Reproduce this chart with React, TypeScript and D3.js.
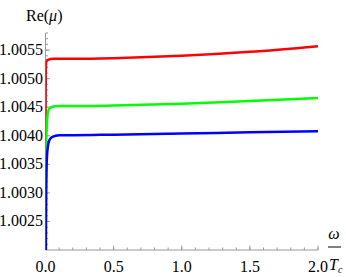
import * as d3 from "d3";

// x values (omega / Tc) where the curves were sampled
const omega = [0, 0.0005, 0.001, 0.002, 0.005, 0.01, 0.02, 0.03, 0.05, 0.1, 0.2, 0.5, 1.0, 1.5, 2.0];

const redSeries = [1.0, 1.0025, 1.0045, 1.0051, 1.00528, 1.00532, 1.00533, 1.00534, 1.00535, 1.00535, 1.00535, 1.00536, 1.0054, 1.00547, 1.00557];
const greenSeries = [1.0, 1.0005, 1.0012, 1.0025, 1.0038, 1.0042, 1.00443, 1.00448, 1.00451, 1.00452, 1.00452, 1.00453, 1.00456, 1.00461, 1.00466];
const blueSeries = [1.0, 1.0002, 1.0006, 1.0015, 1.003, 1.0036, 1.00385, 1.00393, 1.00398, 1.00401, 1.00401, 1.00402, 1.00404, 1.00406, 1.00408];

const xTicks = [0, 0.5, 1.0, 1.5, 2.0];
const yTicks = [1.0025, 1.003, 1.0035, 1.004, 1.0045, 1.005, 1.0055];

const series = [
  { name: "red", color: "#ff0000", values: redSeries },
  { name: "green", color: "#00ff00", values: greenSeries },
  { name: "blue", color: "#0000ff", values: blueSeries },
];

const App = () => {
  const width = 346;
  const height = 277;
  const left = 45.5;
  const right = 318;
  const top = 33;
  const bottom = 250;

  const x = d3.scaleLinear().domain([0, 2]).range([left, right]);
  const y = d3.scaleLinear().domain([1.002, 1.0058]).range([bottom, top]);

  const path = (vals: number[]) =>
    d3
      .line<number>()
      .x((_, i) => x(omega[i]))
      .y((d) => y(d))
      .curve(d3.curveMonotoneX)(vals) || "";

  const xMinor = d3.range(0, 2.0001, 0.1);
  const yMinor = d3.range(1.0021, 1.00581, 0.0001);
  const axisColor = "#999";

  return (
    <svg
      width={width}
      height={height}
      style={{
        position: "absolute",
        left: 0,
        top: 0,
        background: "#fff",
        fontFamily: '"Liberation Serif", "DejaVu Serif", serif',
      }}
    >
      <defs>
        <clipPath id="plot">
          <rect x={left} y={top} width={right - left} height={bottom - top} />
        </clipPath>
      </defs>

      {/* axes */}
      <line x1={left} x2={left} y1={top} y2={bottom} stroke={axisColor} strokeWidth={1} />
      <line x1={left} x2={right} y1={bottom} y2={bottom} stroke={axisColor} strokeWidth={1} />

      {xMinor.map((t, i) => (
        <line key={"xm" + i} x1={x(t)} x2={x(t)} y1={bottom} y2={bottom - 2.5} stroke={axisColor} />
      ))}
      {xTicks.map((t) => (
        <g key={"xt" + t}>
          <line x1={x(t)} x2={x(t)} y1={bottom} y2={bottom - 4.5} stroke={axisColor} />
          <text x={x(t)} y={272} fontSize={16} textAnchor="middle" fill="#000">
            {t.toFixed(1)}
          </text>
        </g>
      ))}

      {yMinor.map((t, i) => (
        <line key={"ym" + i} x1={left} x2={left + 2.5} y1={y(t)} y2={y(t)} stroke={axisColor} />
      ))}
      {yTicks.map((t) => (
        <g key={"yt" + t}>
          <line x1={left} x2={left + 4.5} y1={y(t)} y2={y(t)} stroke={axisColor} />
          <text x={43} y={y(t) + 5} fontSize={16} textAnchor="end" fill="#000">
            {t.toFixed(4)}
          </text>
        </g>
      ))}

      {/* curves */}
      <g clipPath="url(#plot)">
        {series.map((s) => (
          <path key={s.name} d={path(s.values)} fill="none" stroke={s.color} strokeWidth={2.5} />
        ))}
      </g>

      {/* axis labels */}
      <text x={26} y={21} fontSize={16} fill="#000">
        Re(<tspan fontStyle="italic">μ</tspan>)
      </text>
      <text x={334} y={239} fontSize={16} fontStyle="italic" textAnchor="middle" fill="#000">
        ω
      </text>
      <line x1={328} x2={341} y1={247} y2={247} stroke="#000" strokeWidth={1} />
      <text x={329} y={270} fontSize={16} fontStyle="italic" fill="#000">
        T<tspan fontSize={10} dy={3}>c</tspan>
      </text>
    </svg>
  );
};

export default App;
